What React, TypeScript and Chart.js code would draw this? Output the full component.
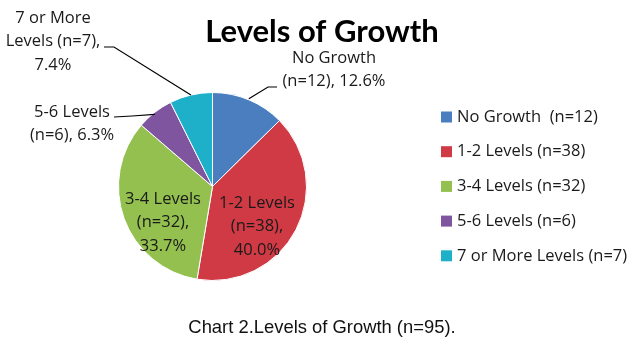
import React, { useEffect, useRef } from "react";
import { Chart, registerables } from "chart.js";

Chart.register(...registerables);

const titleText = "Levels of Growth";
const captionText = "Chart 2.Levels of Growth (n=95).";
const categories = ["No Growth", "1-2 Levels", "3-4 Levels", "5-6 Levels", "7 or More Levels"];
const legendLabels = ["No Growth  (n=12)", "1-2 Levels (n=38)", "3-4 Levels (n=32)", "5-6 Levels (n=6)", "7 or More Levels (n=7)"];
const counts = [12, 38, 32, 6, 7];
const colors = ["#4A7EBF", "#CF3A45", "#93C04F", "#7F55A0", "#1EB0C9"];

const total = counts.reduce((a, b) => a + b, 0);
const pct = counts.map((c) => ((c / total) * 100).toFixed(1) + "%");

const dataLabelLines = [
  ["No Growth", `(n=${counts[0]}), ${pct[0]}`],
  ["1-2 Levels", `(n=${counts[1]}),`, pct[1]],
  ["3-4 Levels", `(n=${counts[2]}),`, pct[2]],
  ["5-6 Levels", `(n=${counts[3]}), ${pct[3]}`],
  ["7 or More", `Levels (n=${counts[4]}),`, pct[4]],
];

const LABEL_FONT = "16.5px 'Open Sans'";

const drawPlugin = {
  id: "customDraw",
  afterDraw(chart: any) {
    const ctx: CanvasRenderingContext2D = chart.ctx;
    const meta = chart.getDatasetMeta(0);
    ctx.save();
    ctx.fillStyle = "#000";
    ctx.textAlign = "center";
    ctx.textBaseline = "middle";
    ctx.font = "bold 31px Lato";
    ctx.fillText(titleText, 322, 32);

    ctx.font = "18.4px 'Liberation Sans'";
    ctx.fillStyle = "#111";
    ctx.fillText(captionText, 322, 328);

    ctx.font = LABEL_FONT;
    ctx.fillStyle = "#1a1a1a";
    const lh = 23.5;
    const anchors: [number, number][] = [
      [334, 58],
      [257, 203],
      [163, 199],
      [72, 112],
      [53, 18],
    ];
    dataLabelLines.forEach((lines, i) => {
      const [ax, ay] = anchors[i];
      lines.forEach((t, j) => ctx.fillText(t, ax, ay + j * lh));
    });

    const edge = (i: number) => {
      const a = meta.data[i];
      const mid = (a.startAngle + a.endAngle) / 2;
      return [a.x + Math.cos(mid) * a.outerRadius, a.y + Math.sin(mid) * a.outerRadius];
    };
    ctx.strokeStyle = "#000";
    ctx.lineWidth = 1.2;
    let p = edge(0);
    ctx.beginPath();
    ctx.moveTo(p[0], p[1] - 1);
    ctx.lineTo(268, 87);
    ctx.lineTo(277, 87);
    ctx.stroke();
    p = edge(4);
    ctx.beginPath();
    ctx.moveTo(p[0], p[1]);
    ctx.lineTo(114, 47);
    ctx.lineTo(104, 47);
    ctx.stroke();
    p = edge(3);
    ctx.beginPath();
    ctx.moveTo(p[0], p[1] + 2);
    ctx.lineTo(132, 116);
    ctx.lineTo(114, 117);
    ctx.stroke();

    ctx.textAlign = "left";
    ctx.font = LABEL_FONT;
    legendLabels.forEach((t, i) => {
      const y = 117 + i * 34.7;
      ctx.fillStyle = colors[i];
      ctx.fillRect(441, y - 5.5, 11, 11);
      ctx.fillStyle = "#1a1a1a";
      ctx.fillText(t, 457, y);
    });
    ctx.restore();
  },
};

export default function App() {
  const ref = useRef<HTMLCanvasElement>(null);
  useEffect(() => {
    if (!ref.current) return;
    const chart = new Chart(ref.current, {
      type: "pie",
      data: {
        labels: categories,
        datasets: [
          {
            data: counts,
            backgroundColor: colors,
            borderColor: "#ffffff",
            borderWidth: 1,
          },
        ],
      },
      options: {
        responsive: false,
        animation: false,
        layout: { padding: { left: 118, right: 331, top: 92, bottom: 77 } },
        plugins: { legend: { display: false }, tooltip: { enabled: false }, title: { display: false } },
      },
      plugins: [drawPlugin],
    });
    return () => chart.destroy();
  }, []);
  return (
    <div style={{ position: "absolute", left: 0, top: 0, width: 638, height: 358, background: "#fff" }}>
      <canvas ref={ref} width={638} height={358} />
    </div>
  );
}
